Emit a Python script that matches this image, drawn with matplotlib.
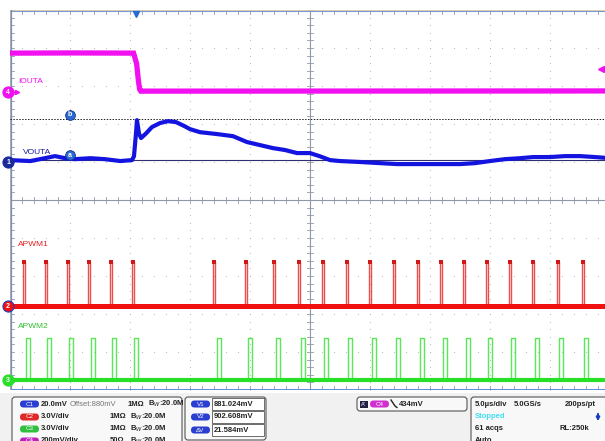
import matplotlib.pyplot as plt
from matplotlib.patches import FancyBboxPatch, Rectangle

# horizontal: microseconds relative to trigger, 5 us/div, 10 divisions
T_LEFT = -10.5
US_PER_DIV = 5.0

# channel setup: position (div), scale per div, offset
CH1 = dict(pos=1.0, scale=20.0, offset=880.0)     # VOUTA, mV
CH2 = dict(pos=-2.79, scale=3.0, offset=0.0)      # APWM1, V
CH3 = dict(pos=-4.74, scale=3.0, offset=0.0)      # APWM2, V
CH4 = dict(pos=2.84, scale=200.0, offset=0.0)     # IOUTA, mV

vouta_t = [-10.5, -8.8, -7.6, -6.75, -5.9, -5.1, -3.8, -2.6, -1.3, -0.33, -0.17,
           0.0, 0.08, 0.25, 0.42, 0.83, 1.33, 2.0, 2.67, 3.33, 4.0, 4.5, 5.33,
           6.75, 8.08, 9.25, 10.33, 11.42, 12.42, 13.42, 14.5, 15.33, 16.17,
           17.0, 18.67, 20.33, 21.75, 23.25, 24.5, 25.75, 27.0, 28.25, 29.5,
           30.75, 32.0, 33.08, 34.5, 35.75, 37.0, 38.25, 39.5]
vouta_mv = [881.0, 880.5, 882.0, 883.1, 882.0, 881.5, 882.0, 881.5, 880.5, 881.0, 883.0,
            895.0, 902.0, 895.0, 892.6, 895.0, 898.4, 900.5, 901.5, 901.0, 899.0, 897.3, 895.7,
            894.7, 893.6, 890.5, 888.9, 887.3, 886.3, 884.7, 884.7, 883.0, 881.0,
            880.5, 880.0, 879.4, 878.9, 878.9, 878.9, 878.9, 878.9, 879.4, 880.5,
            881.5, 882.0, 882.6, 882.6, 883.1, 883.1, 882.6, 882.0]

iouta_t = [-10.5, -5.0, -0.2, 0.05, 0.2, 0.3, 0.4, 39.5]
iouta_mv = [205.0, 206.0, 205.0, 150.0, 60.0, 15.0, 5.0, 6.0]

apwm1_edges = [-9.42, -7.58, -5.75, -4.0, -2.17, -0.33, 6.42, 9.08, 11.42, 13.5,
               15.5, 17.5, 19.42, 21.42, 23.42, 25.33, 27.25, 29.17, 31.08,
               33.0, 35.08, 37.17]
apwm2_edges = [-9.17, -7.42, -5.58, -3.75, -2.0, -0.17, 6.75, 9.33, 11.67, 13.75,
               15.67, 17.67, 19.67, 21.67, 23.67, 25.58, 27.5, 29.33, 31.25,
               33.25, 35.25, 37.33]
apwm1_high = 3.5
apwm2_high = 3.3

cursor_v1 = 881.024
cursor_v2 = 902.608

MAGENTA = "#f010f0"
BLUE = "#1414e0"
RED = "#f01010"
GREEN = "#28e028"


def to_div(values, ch):
    return [ch["pos"] + (v - ch["offset"]) / ch["scale"] for v in values]


def pulse_train(edges, high, width):
    xs, ys = [T_LEFT], [0.0]
    for e in edges:
        xs += [e, e, e + width, e + width]
        ys += [0.0, high, high, 0.0]
    xs.append(T_LEFT + 10 * US_PER_DIV)
    ys.append(0.0)
    return xs, ys


fig = plt.figure(figsize=(6.05, 4.41), dpi=100)
fig.patch.set_facecolor("white")
plt.rcParams["font.family"] = ["Liberation Sans", "DejaVu Sans"]

ax = fig.add_axes([10 / 605, 51 / 441, 600 / 605, 380 / 441])
t_right = T_LEFT + 10 * US_PER_DIV
ax.set_xlim(T_LEFT, t_right)
ax.set_ylim(-5, 5)
ax.axis("off")

# graticule dots
grid_col = "#b4b4b4"
minor_x = [T_LEFT + i * 1.0 for i in range(51)]
minor_y = [-5 + i * 0.2 for i in range(51)]
for k in range(1, 10):
    if k == 5:
        continue
    xs = [T_LEFT + k * US_PER_DIV] * len(minor_y)
    ax.scatter(xs, minor_y, s=0.6, color=grid_col, lw=0, zorder=1)
    ys = [k - 5] * len(minor_x)
    ax.scatter(minor_x, ys, s=0.6, color=grid_col, lw=0, zorder=1)

# center crosshair with minor ticks
center_t = T_LEFT + 5 * US_PER_DIV
ax.axhline(0, color="#9098a8", lw=0.8, zorder=1)
ax.axvline(center_t, color="#9098a8", lw=0.8, zorder=1)
for x in minor_x:
    ax.plot([x, x], [-0.08, 0.08], color="#9098a8", lw=0.6, zorder=1)
    ax.plot([x, x], [4.9, 5.0], color="#9098a8", lw=0.6, zorder=1)
    ax.plot([x, x], [-5.0, -4.9], color="#9098a8", lw=0.6, zorder=1)
for y in minor_y:
    ax.plot([center_t - 0.25, center_t + 0.25], [y, y], color="#9098a8", lw=0.6, zorder=1)
    ax.plot([T_LEFT, T_LEFT + 0.3], [y, y], color="#9098a8", lw=0.6, zorder=1)

# borders
ax.axhline(5.0, color="#d8cc98", lw=1.2, zorder=2)
ax.axhline(4.97, color="#7898d8", lw=0.8, zorder=2)
ax.axhline(-5.0, color="#5a8ae0", lw=1.4, zorder=2)
ax.axvline(T_LEFT, color="#c8b070", lw=1.6, zorder=2)
ax.axvline(T_LEFT + 0.05, color="#6a90e0", lw=0.9, zorder=2)

# cursors
v1_div = to_div([cursor_v1], CH1)[0]
v2_div = to_div([cursor_v2], CH1)[0]
ax.axhline(v1_div, color="#303070", lw=0.8, zorder=3)
ax.axhline(v2_div, color="#202020", lw=0.7, ls=(0, (1.5, 1.5)), zorder=3)

# traces
ax.plot(iouta_t, to_div(iouta_mv, CH4), color=MAGENTA, lw=3.8,
        solid_joinstyle="miter", zorder=5)
ax.plot(vouta_t, to_div(vouta_mv, CH1), color=BLUE, lw=3.0, zorder=5)

x1, y1 = pulse_train(apwm1_edges, apwm1_high, 0.17)
ax.plot(x1, to_div(y1, CH2), color="#e85050", lw=1.0, zorder=4)
ax.plot([T_LEFT, t_right], to_div([0.0, 0.0], CH2), color=RED, lw=3.6, zorder=4)
ax.scatter([e + 0.08 for e in apwm1_edges], to_div([apwm1_high] * len(apwm1_edges), CH2),
           marker="s", s=5, color="#d01818", lw=0, zorder=4)

x2, y2 = pulse_train(apwm2_edges, apwm2_high, 0.3)
ax.plot(x2, to_div(y2, CH3), color="#58e858", lw=1.0, zorder=4)
ax.plot([T_LEFT, t_right], to_div([0.0, 0.0], CH3), color=GREEN, lw=3.0, zorder=4)

# trace labels
ax.text(-9.85, 3.13, "IOUTA", color=MAGENTA, fontsize=6, va="center", zorder=6)
ax.text(-9.4, 1.26, "VOUTA", color="#1a1aa0", fontsize=6, va="center", zorder=6)
ax.text(-9.85, -1.18, "APWM1", color="#e02020", fontsize=6, va="center", zorder=6)
ax.text(-9.85, -3.32, "APWM2", color="#30c030", fontsize=6, va="center", zorder=6)

# cursor tags
for label, y in (("b", 2.24), ("a", 1.18)):
    ax.plot(-5.5, y, "o", ms=7, mfc="#2c6ad8", mec="#103080", mew=0.6, zorder=7)
    ax.text(-5.5, y, label, color="white", fontsize=5, ha="center", va="center",
            fontweight="bold", zorder=8)

# trigger markers
ax.plot(0, 4.9, "v", ms=5, color="#2a6ad8", clip_on=False, zorder=7)
ax.plot(38.75, 3.45, "<", ms=4, color=MAGENTA, clip_on=False, zorder=7)

# channel position markers
markers = [("4", CH4["pos"], MAGENTA, MAGENTA),
           ("1", CH1["pos"], "#1a2a9a", "#1a2a9a"),
           ("2", CH2["pos"], RED, "#2040c0"),
           ("3", CH3["pos"], GREEN, GREEN)]
for num, y, fc, ec in markers:
    ax.plot(T_LEFT - 0.15, y, "o", ms=8, mfc=fc, mec=ec, mew=0.8, clip_on=False, zorder=9)
    ax.text(T_LEFT - 0.15, y, num, color="white", fontsize=5, ha="center", va="center",
            fontweight="bold", clip_on=False, zorder=10)
ax.plot(T_LEFT + 0.55, CH4["pos"], ">", ms=3, color=MAGENTA, clip_on=False, zorder=9)
ax.plot([T_LEFT + 0.2, T_LEFT + 0.5], [CH4["pos"]] * 2, color=MAGENTA, lw=0.8,
        clip_on=False, zorder=9)

# bottom status panel (pixel coordinates)
ui = fig.add_axes([0, 0, 1, 1])
ui.set_xlim(0, 605)
ui.set_ylim(441, 0)
ui.axis("off")
ui.patch.set_alpha(0)

ui.add_patch(Rectangle((0, 393), 605, 48, facecolor="#f1f1f1", edgecolor="none", zorder=0))
for x0, y0, w, h in ((12, 397, 170, 50), (185, 397, 81, 43), (357, 397, 110, 14),
                     (471, 397, 140, 50)):
    ui.add_patch(FancyBboxPatch((x0, y0), w, h, boxstyle="round,pad=0,rounding_size=3",
                                facecolor="#f8f8f8", edgecolor="#555555", lw=0.8, zorder=1))


def pill(x, y, text, color, w=19):
    ui.add_patch(FancyBboxPatch((x, y - 3.5), w, 7, boxstyle="round,pad=0,rounding_size=3.5",
                                facecolor=color, edgecolor="none", zorder=2))
    ui.text(x + w / 2, y, text, color="white", fontsize=4.5, ha="center", va="center",
            zorder=3)


txt = dict(fontsize=5.5, fontweight="bold", color="#222222", va="center", zorder=3)

pill(20, 404, "C1", "#2a3ed0")
ui.text(41, 404, "20.0mV", **txt)
ui.text(70, 404, "Offset:880mV", fontsize=5.5, color="#777777", va="center", zorder=3)
ui.text(128, 404, "1MΩ", **txt)
ui.text(148, 404, "B$_W$:20.0M", **txt)

pill(20, 417, "C2", "#e02828")
ui.text(41, 417, "3.0V/div", **txt)
ui.text(110, 417, "1MΩ", **txt)
ui.text(130, 417, "B$_W$:20.0M", **txt)

pill(20, 429, "C3", "#30c040")
ui.text(41, 429, "3.0V/div", **txt)
ui.text(110, 429, "1MΩ", **txt)
ui.text(130, 429, "B$_W$:20.0M", **txt)

pill(20, 441, "C4", "#c020c0")
ui.text(41, 441, "200mV/div", **txt)
ui.text(110, 441, "50Ω", **txt)
ui.text(130, 441, "B$_W$:20.0M", **txt)

for y, lab, val in ((404, "V1", cursor_v1), (417, "V2", cursor_v2),
                    (430, "ΔV", cursor_v2 - cursor_v1)):
    pill(191, y, lab, "#2a3ed0")
    ui.add_patch(Rectangle((212, y - 6), 52, 12, facecolor="white", edgecolor="#555555",
                           lw=0.6, zorder=2))
    ui.text(214, y, f"{val:.3f}mV", **txt)

ui.add_patch(Rectangle((360, 400.5), 7.5, 7.5, facecolor="#222244", edgecolor="none", zorder=2))
ui.text(363.7, 404.2, "A'", color="white", fontsize=4, ha="center", va="center", zorder=3)
pill(370, 404, "C4", "#d030d0")
ui.plot([391, 395, 397], [400, 406, 407.5], color="#222222", lw=1.0, zorder=3)
ui.text(399, 404, "434mV", **txt)

ui.text(475, 404, "5.0µs/div", **txt)
ui.text(514, 404, "5.0GS/s", **txt)
ui.text(565, 404, "200ps/pt", **txt)
ui.text(475, 416, "Stopped", fontsize=5.5, fontweight="bold", color="#40e0f0", va="center",
        zorder=3)
ui.text(475, 429, "61 acqs", **txt)
ui.text(559, 429, "RL:250k", **txt)
ui.text(475, 441, "Auto", **txt)
ui.annotate("", xy=(598, 424), xytext=(598, 411),
            arrowprops=dict(arrowstyle="-|>", color="#1a3ac0", lw=1.4, mutation_scale=5),
            zorder=3)

fig.savefig("out.png", dpi=100)
